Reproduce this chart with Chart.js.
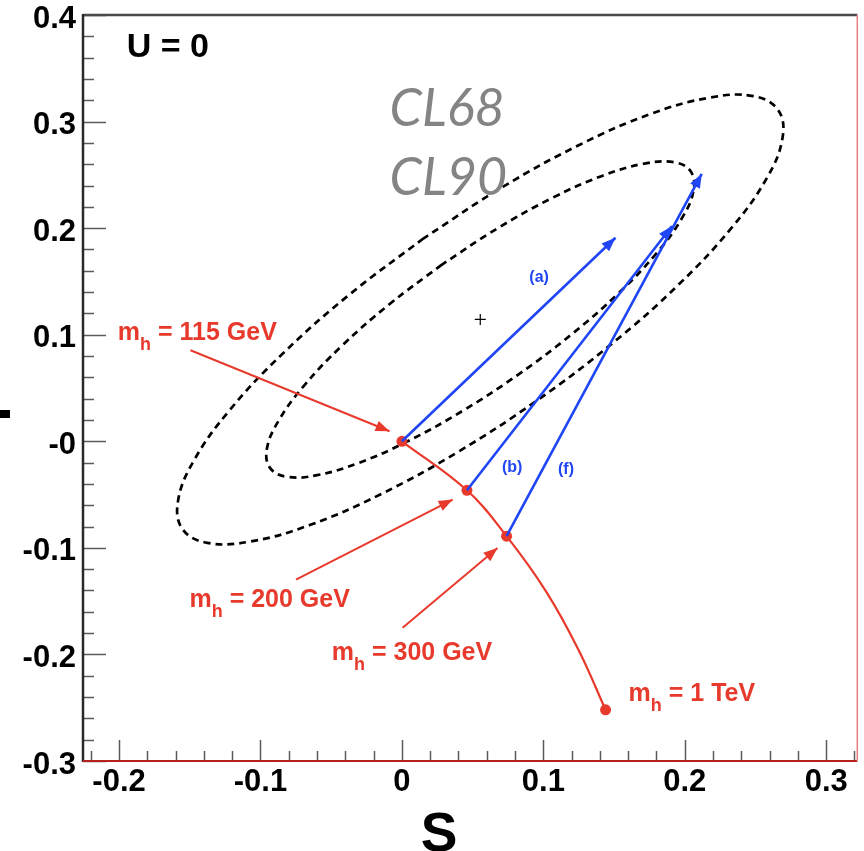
<!DOCTYPE html>
<html>
<head>
<meta charset="utf-8">
<title>S-T plane, U = 0</title>
<script src="https://cdn.jsdelivr.net/npm/chart.js@4.4.1/dist/chart.umd.min.js"></script>
<style>
  html, body { margin: 0; padding: 0; background: #ffffff; }
  canvas { display: block; }
</style>
</head>
<body>
<canvas id="st" width="864" height="851"></canvas>
<script>
// Axis ticks
const xTickValues = [-0.2, -0.1, 0, 0.1, 0.2, 0.3];
const xTickLabels = ['-0.2', '-0.1', '0', '0.1', '0.2', '0.3'];
const yTickValues = [0.4, 0.3, 0.2, 0.1, 0, -0.1, -0.2, -0.3];
const yTickLabels = ['0.4', '0.3', '0.2', '0.1', '-0', '-0.1', '-0.2', '-0.3'];

// Standard Model Higgs trajectory in the S-T plane
const higgsS = [0, 0.046, 0.074, 0.102, 0.125, 0.144];
const higgsT = [0, -0.046, -0.089, -0.141, -0.196, -0.252];
const higgsMarked = [true, true, true, false, false, true];
const higgsMassLabels = ['115 GeV', '200 GeV', '300 GeV', '1 TeV'];

// Fit centre
const fitCenterS = [0.0554];
const fitCenterT = [0.1143];

// 68% CL contour
const cl68S = [0.0283, -0.0093, -0.0425, -0.0690, -0.0870, -0.0954, -0.0934, -0.0814, -0.0600, -0.0307,
               0.0044, 0.0430, 0.0825, 0.1201, 0.1533, 0.1798, 0.1978, 0.2062, 0.2042, 0.1922,
               0.1708, 0.1415, 0.1064, 0.0678, 0.0283];
const cl68T = [0.1658, 0.1281, 0.0895, 0.0525, 0.0197, -0.0066, -0.0247, -0.0333, -0.0318, -0.0204,
               0.0002, 0.0286, 0.0628, 0.1005, 0.1391, 0.1761, 0.2089, 0.2352, 0.2533, 0.2619,
               0.2604, 0.2490, 0.2284, 0.2000, 0.1658];

// 90% CL contour
const cl90S = [0.0154, -0.0377, -0.0845, -0.1218, -0.1470, -0.1583, -0.1552, -0.1376, -0.1070, -0.0652,
               -0.0153, 0.0395, 0.0954, 0.1485, 0.1953, 0.2326, 0.2578, 0.2691, 0.2660, 0.2484,
               0.2178, 0.1760, 0.1261, 0.0713, 0.0154];
const cl90T = [0.1905, 0.1370, 0.0820, 0.0292, -0.0179, -0.0559, -0.0823, -0.0953, -0.0940, -0.0786,
               -0.0499, -0.0101, 0.0382, 0.0916, 0.1466, 0.1995, 0.2465, 0.2845, 0.3109, 0.3239,
               0.3225, 0.3072, 0.2785, 0.2387, 0.1905];

// Shifts (a), (b), (f) starting from Higgs mass points
const shiftNames = ['(a)', '(b)', '(f)'];
const shiftFromS = [0, 0.046, 0.074];
const shiftFromT = [0, -0.046, -0.089];
const shiftToS = [0.151, 0.191, 0.212];
const shiftToT = [0.191, 0.202, 0.251];

// Pointers from mass labels to the trajectory
const pointerFromS = [-0.1495, -0.0749, 0.0005];
const pointerFromT = [0.0854, -0.1299, -0.1749];
const pointerToS = [-0.0087, 0.0359, 0.0676];
const pointerToT = [0.0094, -0.0547, -0.1001];

const RED = '#e83a2c';
const BLUE = '#1f45f5';
const FONT = '"Liberation Sans", Arial, Helvetica, sans-serif';

const toPts = (xs, ys) => xs.map((x, i) => ({ x, y: ys[i] }));
const segment = (x0, y0, x1, y1) => [{ x: x0, y: y0 }, { x: x1, y: y1 }];

const datasets = [];
shiftNames.forEach((name, i) => {
  datasets.push({
    label: name,
    data: segment(shiftFromS[i], shiftFromT[i], shiftToS[i], shiftToT[i]),
    showLine: true, borderColor: BLUE, borderWidth: 2.6, pointRadius: 0, tension: 0,
    arrowColor: BLUE
  });
});
datasets.push({
  label: 'SM Higgs',
  data: toPts(higgsS, higgsT),
  showLine: true, borderColor: RED, borderWidth: 2.2, tension: 0.4,
  pointRadius: higgsMarked.map(m => (m ? 5.5 : 0)),
  pointBackgroundColor: RED, pointBorderColor: RED, pointBorderWidth: 0
});
pointerFromS.forEach((s, i) => {
  datasets.push({
    label: 'pointer ' + higgsMassLabels[i],
    data: segment(s, pointerFromT[i], pointerToS[i], pointerToT[i]),
    showLine: true, borderColor: RED, borderWidth: 2, pointRadius: 0, tension: 0,
    arrowColor: RED
  });
});
datasets.push({
  label: 'fit centre',
  data: toPts(fitCenterS, fitCenterT),
  showLine: false, pointStyle: 'cross', pointRadius: 5.5,
  borderColor: '#000', pointBorderColor: '#000', pointBorderWidth: 1.2
});
datasets.push({
  label: 'CL68',
  data: toPts(cl68S, cl68T),
  showLine: true, borderColor: '#000', borderWidth: 2.7, borderDash: [7, 5],
  tension: 0.4, pointRadius: 0
});
datasets.push({
  label: 'CL90',
  data: toPts(cl90S, cl90T),
  showLine: true, borderColor: '#000', borderWidth: 2.7, borderDash: [7, 5],
  tension: 0.4, pointRadius: 0
});

function drawMassLabel(ctx, x, y, text) {
  ctx.fillStyle = RED;
  ctx.textAlign = 'left';
  ctx.textBaseline = 'alphabetic';
  ctx.font = 'bold 25px ' + FONT;
  ctx.fillText('m', x, y);
  const wm = ctx.measureText('m').width;
  ctx.font = 'bold 18px ' + FONT;
  ctx.fillText('h', x + wm, y + 10);
  const wh = ctx.measureText('h').width;
  ctx.font = 'bold 25px ' + FONT;
  ctx.fillText(' = ' + text, x + wm + wh, y);
}

// Anchors (S, T) for annotation text: left/baseline unless noted
const massLabelAnchors = [[-0.2009, 0.0946], [-0.1502, -0.1552], [-0.0496, -0.2050], [0.1603, -0.2435]];
const shiftLabelAnchors = [[0.0970, 0.1535], [0.0780, -0.0247], [0.1160, -0.0266]];

const frameAndText = {
  id: 'frameAndText',
  beforeDatasetsDraw(chart) {
    const { ctx, chartArea: a, scales } = chart;
    const xs = scales.x, ys = scales.y;
    ctx.save();
    ctx.strokeStyle = '#5a5a5a';
    ctx.lineWidth = 1.5;
    // bottom ticks, pointing up into the frame
    for (let k = -11; k <= 16; k++) {
      const v = k * 0.02;
      const px = Math.round(xs.getPixelForValue(v)) + 0.5;
      const major = k % 5 === 0;
      ctx.beginPath();
      ctx.moveTo(px, a.bottom);
      ctx.lineTo(px, a.bottom - (major ? 21 : 10));
      ctx.stroke();
    }
    // left ticks, pointing right into the frame
    for (let k = -15; k <= 20; k++) {
      const v = k * 0.02;
      const py = Math.round(ys.getPixelForValue(v)) + 0.5;
      const major = k % 5 === 0;
      ctx.beginPath();
      ctx.moveTo(a.left, py);
      ctx.lineTo(a.left + (major ? 23 : 11), py);
      ctx.stroke();
    }
    ctx.restore();
  },
  afterDatasetsDraw(chart) {
    const { ctx, scales } = chart;
    const xs = scales.x, ys = scales.y;
    ctx.save();
    // arrowheads
    chart.data.datasets.forEach((ds, i) => {
      if (!ds.arrowColor) return;
      const pts = chart.getDatasetMeta(i).data;
      const p0 = pts[0], p1 = pts[pts.length - 1];
      const ang = Math.atan2(p1.y - p0.y, p1.x - p0.x);
      const len = 14, half = 5.5;
      ctx.fillStyle = ds.arrowColor;
      ctx.beginPath();
      ctx.moveTo(p1.x, p1.y);
      ctx.lineTo(p1.x - len * Math.cos(ang) + half * Math.sin(ang), p1.y - len * Math.sin(ang) - half * Math.cos(ang));
      ctx.lineTo(p1.x - len * Math.cos(ang) - half * Math.sin(ang), p1.y - len * Math.sin(ang) + half * Math.cos(ang));
      ctx.closePath();
      ctx.fill();
    });

    // mass labels
    massLabelAnchors.forEach((p, i) => {
      drawMassLabel(ctx, xs.getPixelForValue(p[0]), ys.getPixelForValue(p[1]), higgsMassLabels[i]);
    });

    // shift labels
    ctx.fillStyle = BLUE;
    ctx.font = 'bold 16px ' + FONT;
    ctx.textAlign = 'center';
    ctx.textBaseline = 'middle';
    shiftLabelAnchors.forEach((p, i) => {
      ctx.fillText(shiftNames[i], xs.getPixelForValue(p[0]), ys.getPixelForValue(p[1]));
    });

    // contour names
    ctx.fillStyle = '#848484';
    ctx.font = 'italic 52px Lato, "Noto Sans", sans-serif';
    ctx.textAlign = 'left';
    ctx.textBaseline = 'alphabetic';
    ctx.fillText('CL68', xs.getPixelForValue(-0.0087), ys.getPixelForValue(0.2955));
    ctx.fillText('CL90', xs.getPixelForValue(-0.0087), ys.getPixelForValue(0.2307));

    // U = 0
    ctx.fillStyle = '#000';
    ctx.font = 'bold 34px ' + FONT;
    ctx.fillText('U = 0', xs.getPixelForValue(-0.1946), ys.getPixelForValue(0.3603));
    ctx.restore();
  },
  afterDraw(chart) {
    const { ctx, chartArea: a } = chart;
    ctx.save();
    // frame
    ctx.lineWidth = 2.5;
    ctx.strokeStyle = '#4a4a4a';
    ctx.beginPath(); ctx.moveTo(a.left, a.top); ctx.lineTo(a.right, a.top); ctx.stroke();
    ctx.strokeStyle = '#2a2a2a';
    ctx.beginPath(); ctx.moveTo(a.left, a.top - 1); ctx.lineTo(a.left, a.bottom + 1); ctx.stroke();
    ctx.lineWidth = 2;
    ctx.strokeStyle = '#b82020';
    ctx.beginPath(); ctx.moveTo(a.left, a.bottom); ctx.lineTo(a.right, a.bottom); ctx.stroke();
    ctx.lineWidth = 1.5;
    ctx.strokeStyle = '#e58080';
    ctx.beginPath(); ctx.moveTo(a.right, a.top); ctx.lineTo(a.right, a.bottom); ctx.stroke();

    // axis titles
    ctx.fillStyle = '#000';
    ctx.font = 'bold 55px ' + FONT;
    ctx.textAlign = 'center';
    ctx.textBaseline = 'alphabetic';
    ctx.fillText('S', 439, 851);
    ctx.translate(10, 414);
    ctx.rotate(-Math.PI / 2);
    ctx.fillText('T', 0, 0);
    ctx.restore();
  }
};

new Chart(document.getElementById('st'), {
  type: 'scatter',
  data: { datasets },
  options: {
    responsive: false,
    devicePixelRatio: 1,
    animation: false,
    events: [],
    layout: { padding: { left: 0, top: 15, right: 2, bottom: 0 } },
    plugins: { legend: { display: false }, tooltip: { enabled: false } },
    scales: {
      x: {
        type: 'linear',
        min: -0.2255, max: 0.322,
        grid: { display: false, drawTicks: false },
        border: { display: false },
        afterBuildTicks: s => { s.ticks = xTickValues.map(v => ({ value: v })); },
        afterFit: s => { s.height = 90; s.paddingLeft = 0; s.paddingRight = 0; },
        ticks: {
          padding: 6,
          color: '#000',
          font: { family: FONT, size: 31, weight: 'bold', lineHeight: 1 },
          maxRotation: 0,
          autoSkip: false,
          callback: (v, i) => xTickLabels[i]
        }
      },
      y: {
        type: 'linear',
        min: -0.3, max: 0.4,
        grid: { display: false, drawTicks: false },
        border: { display: false },
        afterBuildTicks: s => { s.ticks = yTickValues.map(v => ({ value: v })); },
        afterFit: s => { s.width = 83; s.paddingTop = 0; s.paddingBottom = 0; s.paddingLeft = 0; s.paddingRight = 0; },
        ticks: {
          padding: 7,
          labelOffset: 4,
          color: '#000',
          font: { family: FONT, size: 31, weight: 'bold', lineHeight: 1 },
          autoSkip: false,
          callback: (v, i) => yTickLabels[i]
        }
      }
    }
  },
  plugins: [frameAndText]
});
</script>
</body>
</html>
